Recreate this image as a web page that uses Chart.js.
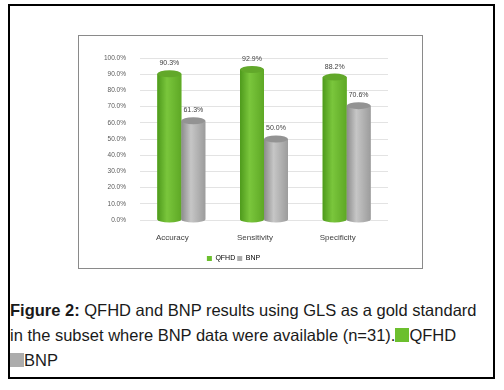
<!DOCTYPE html>
<html>
<head>
<meta charset="utf-8">
<script src="https://cdn.jsdelivr.net/npm/chart.js@4"></script>
<style>
  html, body { margin: 0; padding: 0; background: #fff; }
  body { width: 504px; height: 390px; position: relative; overflow: hidden; }
  #frame { position: absolute; left: 8px; top: 4px; width: 483px; height: 371px; border: 2px solid #000; }
  #box { position: absolute; left: 78px; top: 35px; width: 343px; height: 232px; border: 1px solid #8a8a8a; }
  #wrap { position: absolute; left: 79px; top: 36px; width: 343px; height: 236px; }
  #caption { position: absolute; left: 10px; top: 298px; width: 480px; font-family: "Liberation Sans", Arial, sans-serif; font-size: 16.5px; line-height: 25px; color: #1a1a1a; }
  .sq { display: inline-block; width: 14px; height: 14px; vertical-align: -1px; }
</style>
</head>
<body>
<div id="frame"></div>
<div id="box"></div>
<div id="wrap"><canvas id="chart" width="343" height="236"></canvas></div>
<div id="caption"><b>Figure 2:</b> QFHD and BNP results using GLS as a gold standard<br>in the subset where BNP data were available (n=31).<span class="sq" style="background:#6cbf2e"></span>QFHD<br><span class="sq" style="background:#acacac"></span>BNP</div>
<script>
// Values
var categories = ['Accuracy', 'Sensitivity', 'Specificity'];
var qfhdValues = [90.3, 92.9, 88.2];
var bnpValues = [61.3, 50.0, 70.6];
var yTicks = [0, 10, 20, 30, 40, 50, 60, 70, 80, 90, 100];

document.addEventListener('DOMContentLoaded', function () {
  var canvas = document.getElementById('chart');
  var shades = [
    { side: ['#4e9a1c', '#7ac63c', '#5ea825'], cap: '#62a82a' },
    { side: ['#8c8c8c', '#c6c6c6', '#9c9c9c'], cap: '#939393' }
  ];

  function bodyGradient(c, bar, i) {
    var g = c.createLinearGradient(bar.x - bar.width / 2, 0, bar.x + bar.width / 2, 0);
    g.addColorStop(0, shades[i].side[0]);
    g.addColorStop(0.4, shades[i].side[1]);
    g.addColorStop(1, shades[i].side[2]);
    return g;
  }

  // cylinder look: shaded body with ellipse caps, then value labels
  var cylinders = {
    id: 'cylinders',
    afterDatasetsDraw: function (chart) {
      var c = chart.ctx;
      c.save();
      chart.data.datasets.forEach(function (ds, i) {
        chart.getDatasetMeta(i).data.forEach(function (bar) {
          var w = bar.width;
          var g = bodyGradient(c, bar, i);
          c.fillStyle = g;
          c.fillRect(bar.x - w / 2, bar.y, w, bar.base - bar.y);
          c.beginPath();
          c.ellipse(bar.x, bar.base, w / 2, 3, 0, 0, Math.PI * 2);
          c.fill();
          c.fillStyle = shades[i].cap;
          c.beginPath();
          c.ellipse(bar.x, bar.y, w / 2, 3.5, 0, 0, Math.PI * 2);
          c.fill();
        });
      });
      c.font = '7px "Liberation Sans", Arial, sans-serif';
      c.fillStyle = '#404040';
      c.textAlign = 'center';
      c.textBaseline = 'bottom';
      chart.data.datasets.forEach(function (ds, i) {
        chart.getDatasetMeta(i).data.forEach(function (bar, j) {
          c.fillText(ds.data[j].toFixed(1) + '%', bar.x, bar.y - 7);
        });
      });
      c.restore();
    }
  };

  new Chart(canvas.getContext('2d'), {
    type: 'bar',
    data: {
      labels: categories,
      datasets: [{
        label: 'QFHD',
        data: qfhdValues,
        backgroundColor: '#6cbf2e'
      }, {
        label: 'BNP',
        data: bnpValues,
        backgroundColor: '#acacac'
      }]
    },
    options: {
      responsive: false,
      animation: false,
      categoryPercentage: 0.58,
      barPercentage: 1,
      layout: { padding: { left: 0, right: 34, top: 22, bottom: 0 } },
      plugins: {
        tooltip: { enabled: false },
        legend: {
          position: 'bottom',
          labels: {
            boxWidth: 5, boxHeight: 5, padding: 2,
            color: '#595959',
            font: { size: 7, family: '"Liberation Sans", Arial, sans-serif' },
            generateLabels: function (chart) {
              var fills = ['#6cbf2e', '#acacac'];
              return chart.data.datasets.map(function (ds, i) {
                return { text: ds.label, fillStyle: fills[i], strokeStyle: fills[i], lineWidth: 0, datasetIndex: i };
              });
            }
          }
        }
      },
      scales: {
        x: {
          grid: { display: false },
          border: { display: false },
          afterFit: function (axis) { axis.height = 33; },
          ticks: { color: '#404040', labelOffset: -9, padding: 5, font: { size: 8, family: '"Liberation Sans", Arial, sans-serif' } }
        },
        y: {
          min: 0, max: 100,
          afterBuildTicks: function (axis) { axis.ticks = yTicks.map(function (v) { return { value: v }; }); },
          afterFit: function (axis) { axis.width = 61; },
          grid: { color: '#e3e3e3', drawTicks: false },
          border: { display: false },
          ticks: {
            color: '#595959', padding: 14,
            font: { size: 6.5, family: '"Liberation Sans", Arial, sans-serif' },
            callback: function (v) { return v.toFixed(1) + '%'; }
          }
        }
      }
    },
    plugins: [cylinders]
  });
});
</script>
</body>
</html>
